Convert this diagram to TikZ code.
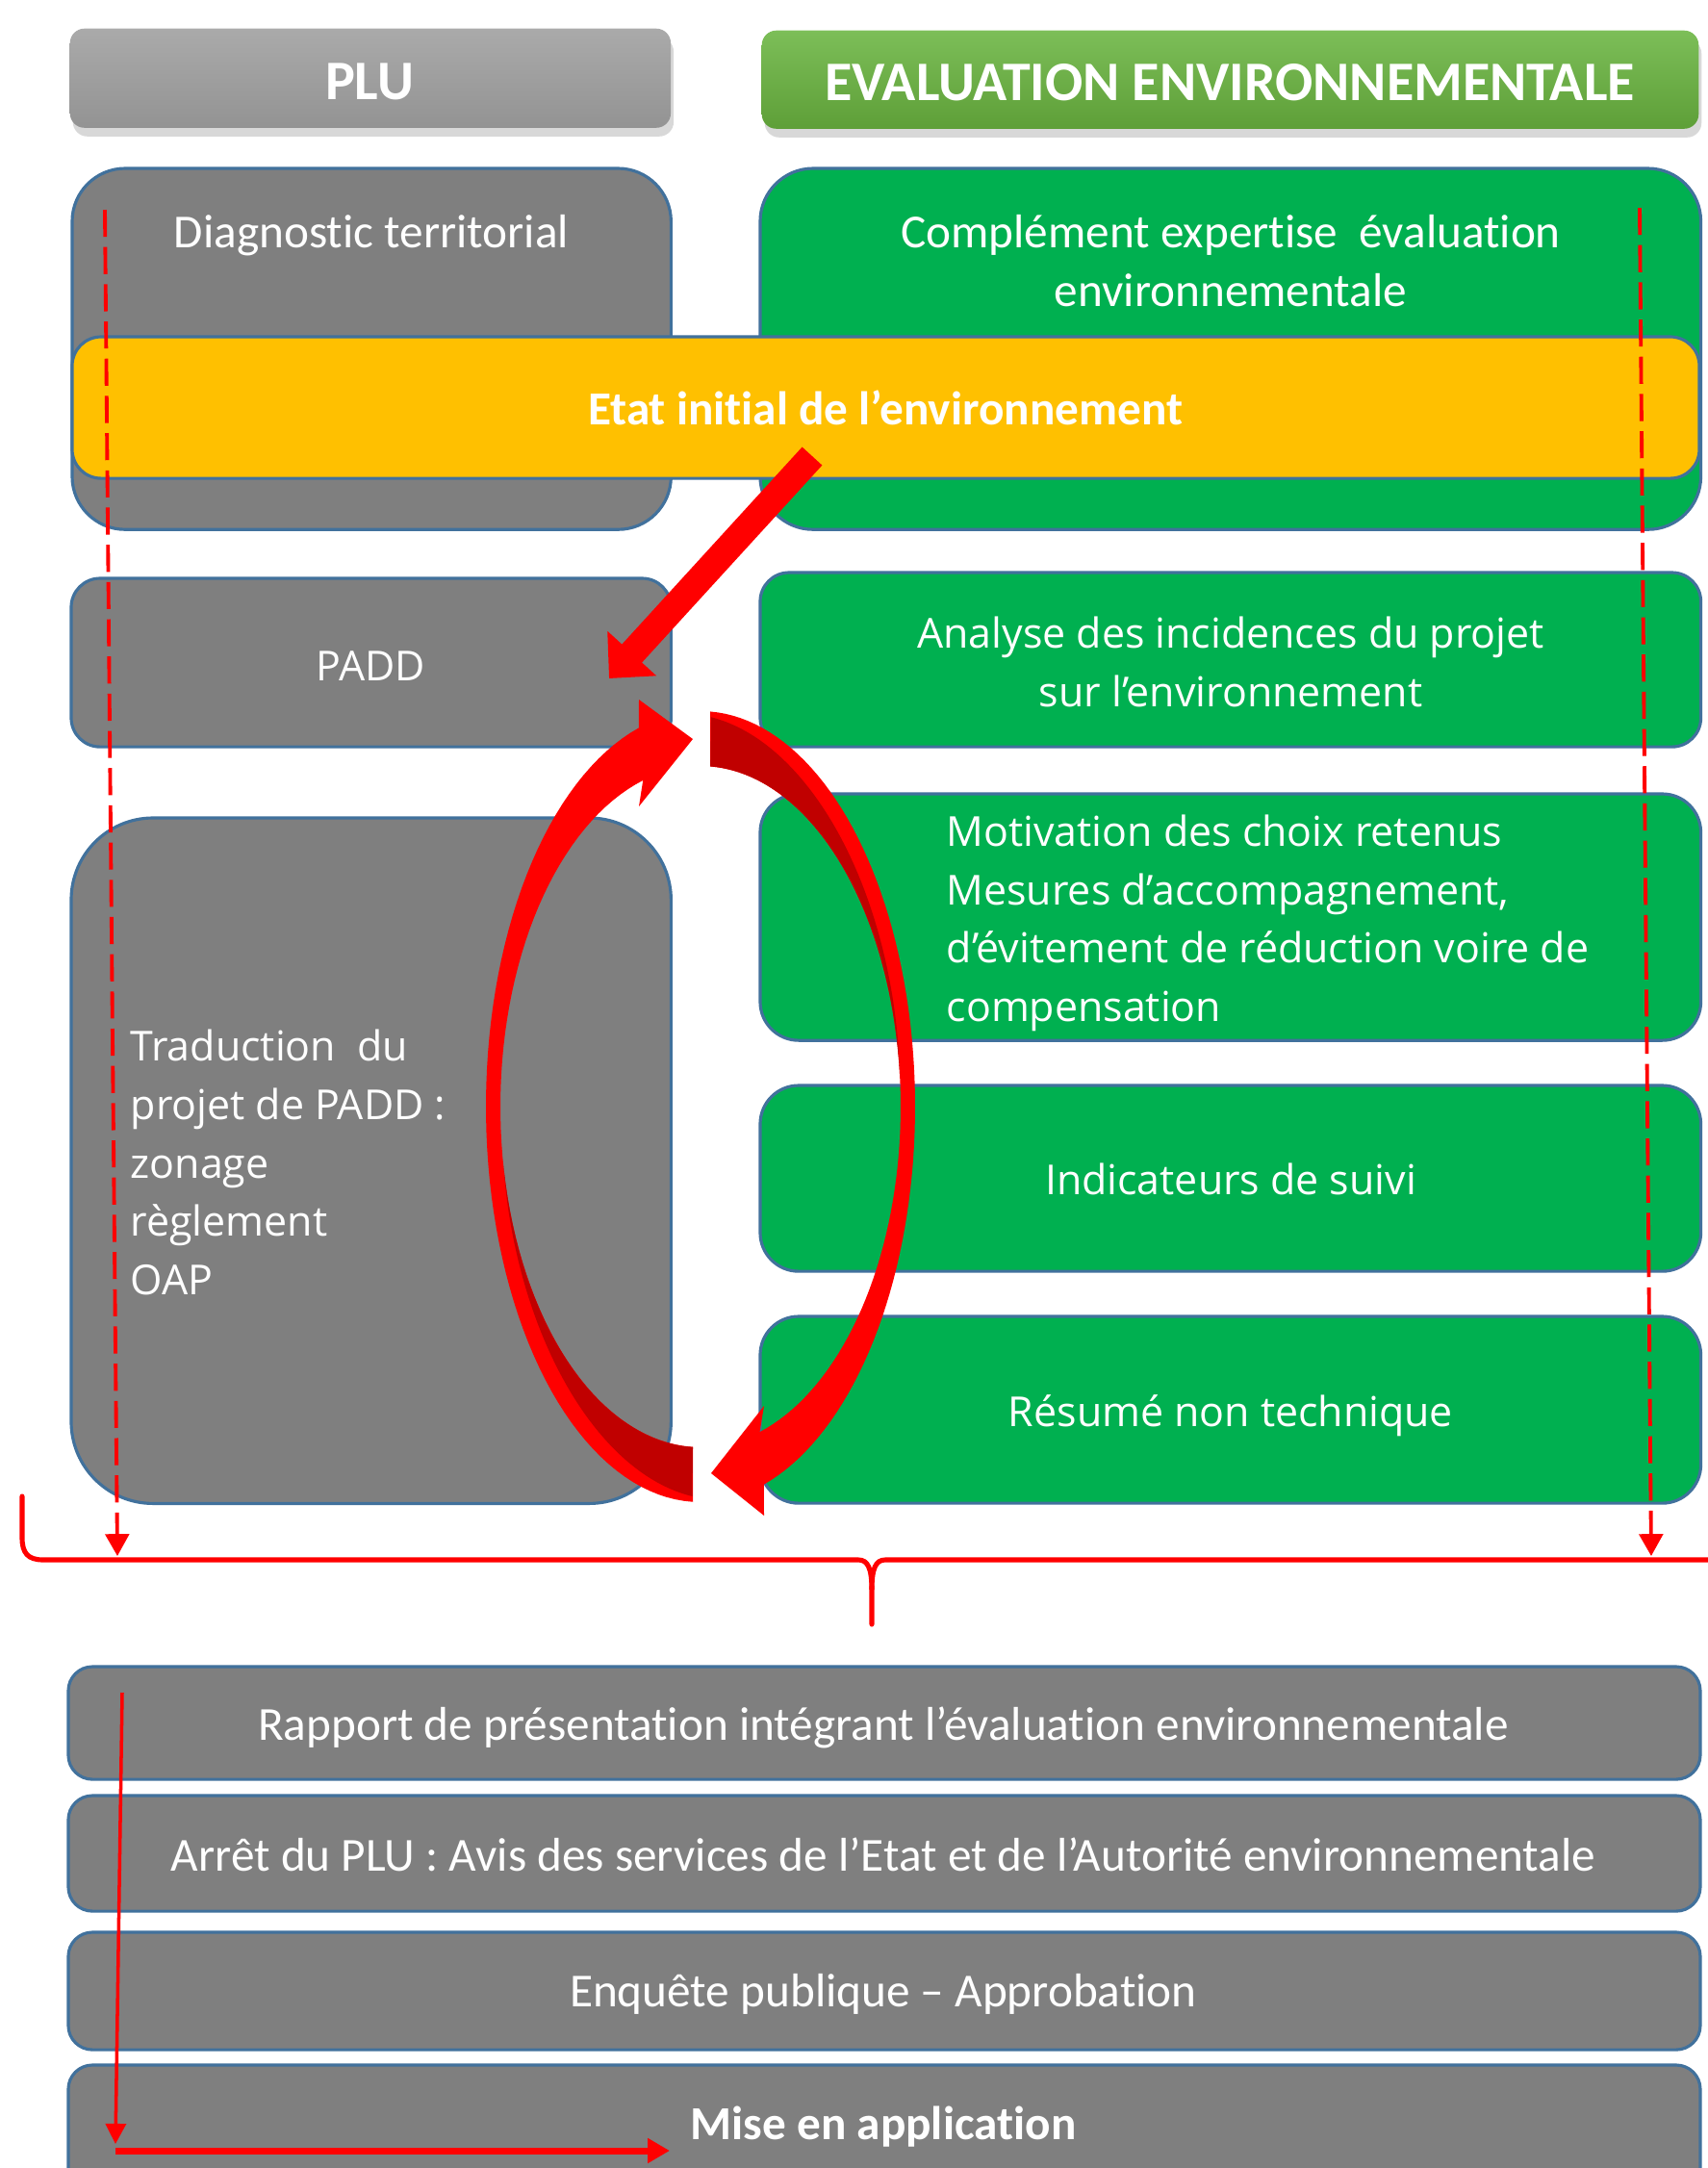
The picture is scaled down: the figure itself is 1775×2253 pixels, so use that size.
\documentclass[tikz,border=0pt]{standalone}
\usepackage{fontspec}
\setmainfont{Carlito}[Ligatures={NoCommon,NoContextual}]
\newfontfamily\osans{Open Sans}
\usetikzlibrary{arrows.meta,shadows}
\definecolor{gbox}{HTML}{7F7F7F}
\definecolor{gr}{HTML}{00B050}
\definecolor{yl}{HTML}{FFC000}
\definecolor{bd}{HTML}{41719C}
\definecolor{rd}{HTML}{FF0000}
\definecolor{drd}{HTML}{C00000}
\definecolor{hga}{HTML}{AAAAAA}
\definecolor{hgb}{HTML}{939393}
\definecolor{hea}{HTML}{7CBE58}
\definecolor{heb}{HTML}{5E9F38}
\tikzset{
  bx/.style={draw=bd, line width=0.9pt, inner sep=0pt, outer sep=0pt, anchor=north west, rectangle},
  gbx/.style={bx, fill=gbox},
  grbx/.style={bx, fill=gr},
  hdr/.style={rectangle, inner sep=0pt, anchor=north west, rounded corners=0.15cm,
    drop shadow={opacity=0.3, shadow xshift=0.3mm, shadow yshift=-0.9mm}},
  wt/.style={text=white, inner sep=0pt, anchor=base},
  cal/.style={wt, font=\fontsize{14}{17}\selectfont},
  calb/.style={wt, font=\bfseries\fontsize{14}{17}\selectfont},
  hdt/.style={wt, font=\bfseries\fontsize{16.5}{19}\selectfont},
  ops/.style={wt, font=\osans\fontsize{12.2}{17}\selectfont},
  dashline/.style={rd, line width=1.1pt, dash pattern=on 8pt off 3pt, -{Triangle[width=7pt,length=6.5pt]}},
}
\begin{document}
\begin{tikzpicture}[x=0.01cm, y=-0.01cm]
\useasboundingbox (0,0) rectangle (1775,2253);
\clip (0,0) rectangle (1775,2253);
\fill[white] (0,0) rectangle (1775,2253);

% headers
\node[hdr, top color=hga, bottom color=hgb, minimum width=6.24cm, minimum height=1.03cm] (hplu) at (72,29) {};
\node[hdr, top color=hea, bottom color=heb, minimum width=9.73cm, minimum height=1.02cm] (heval) at (791,31) {};
\node[hdt] (tplu) at (384,103) {PLU};
\node[hdt] (teval) at (1278,104) {EVALUATION ENVIRONNEMENTALE};

% top boxes
\node[gbx, rounded corners=0.55cm, minimum width=6.22cm, minimum height=3.75cm] (diag) at (75,175) {};
\node[grbx, rounded corners=0.55cm, minimum width=9.77cm, minimum height=3.75cm] (compl) at (790,175) {};
\node[bx, fill=yl, rounded corners=0.3cm, minimum width=16.9cm, minimum height=1.47cm] (etat) at (75,350) {};
\node[cal] (tdiag) at (386,257) {Diagnostic territorial};
\node[cal] (tcompl1) at (1279,257) {Complément expertise\ \ évaluation};
\node[cal] (tcompl2) at (1279,318) {environnementale};
\node[calb] (tetat) at (920,441) {Etat initial de l’environnement};

% middle boxes
\node[gbx, rounded corners=0.3cm, minimum width=6.23cm, minimum height=1.75cm] (padd) at (74,601) {};
\node[grbx, rounded corners=0.3cm, minimum width=9.77cm, minimum height=1.81cm] (analyse) at (790,595) {};
\node[gbx, rounded corners=0.85cm, minimum width=6.23cm, minimum height=7.12cm] (trad) at (74,850) {};
\node[grbx, rounded corners=0.4cm, minimum width=9.77cm, minimum height=2.56cm] (motiv) at (790,825) {};
\node[grbx, rounded corners=0.4cm, minimum width=9.77cm, minimum height=1.93cm] (indic) at (790,1128) {};
\node[grbx, rounded corners=0.4cm, minimum width=9.77cm, minimum height=1.94cm] (resume) at (790,1368) {};

\node[ops] (tpadd) at (385,707) {PADD};
\node[ops] (tana1) at (1279,673) {Analyse des incidences du projet};
\node[ops] (tana2) at (1279,734) {sur l’environnement};
\node[ops, anchor=base west] (tmot1) at (983,879) {Motivation des choix retenus};
\node[ops, anchor=base west] (tmot2) at (983,940) {Mesures d’accompagnement,};
\node[ops, anchor=base west] (tmot3) at (983,1000) {d’évitement de réduction voire de};
\node[ops, anchor=base west] (tmot4) at (983,1061) {compensation};
\node[ops] (tindic) at (1279,1241) {Indicateurs de suivi};
\node[ops] (tres) at (1279,1482) {Résumé non technique};
\node[ops, anchor=base west] (ttr1) at (135,1102) {Traduction\ \ du};
\node[ops, anchor=base west] (ttr2) at (135,1163) {projet de PADD :};
\node[ops, anchor=base west] (ttr3) at (135,1224) {zonage};
\node[ops, anchor=base west] (ttr4) at (135,1284) {règlement};
\node[ops, anchor=base west] (ttr5) at (135,1345) {OAP};

% bottom boxes
\node[gbx, rounded corners=0.25cm, minimum width=16.95cm, minimum height=1.17cm] (rapport) at (71,1732) {};
\node[gbx, rounded corners=0.25cm, minimum width=16.95cm, minimum height=1.2cm] (arret) at (71,1866) {};
\node[gbx, rounded corners=0.25cm, minimum width=16.95cm, minimum height=1.22cm] (enquete) at (71,2008) {};
\node[gbx, rounded corners=0.25cm, minimum width=16.95cm, minimum height=1.4cm] (mise) at (71,2146) {};
\node[cal] (trap) at (918,1808) {Rapport de présentation intégrant l’évaluation environnementale};
\node[cal] (tarr) at (918,1944) {Arrêt du PLU : Avis des services de l’Etat et de l’Autorité environnementale};
\node[cal] (tenq) at (918,2085) {Enquête publique – Approbation};
\node[calb] (tmise) at (918,2223) {Mise en application};

% dashed side arrows
\coordinate (dla) at (109,218);
\coordinate (dlb) at (122,1617);
\coordinate (dra) at (1704,216);
\coordinate (drb) at (1716,1617);
\draw[dashline] (dla) -- (dlb);
\draw[dashline] (dra) -- (drb);

% brace
\coordinate (bra) at (23,1555);
\coordinate (brm) at (906,1688);
\coordinate (brr) at (1790,1621);
\draw[rd, line width=1.45pt, line cap=round] (bra) -- (23,1598) .. controls (23,1614) and (29,1621) .. (45,1621)
  -- (892,1621) .. controls (902,1621) and (906,1630) .. (906,1652) -- (brm);
\draw[rd, line width=1.45pt] (906,1652) .. controls (906,1630) and (910,1621) .. (920,1621) -- (brr);

% straight arrow from Etat to PADD
\coordinate (sa) at (844,474);
\coordinate (sb) at (633,705);
\draw[rd, line width=8pt, -{Triangle[width=19pt,length=10pt]}] (sa) -- (sb);

% curved arrows (left: up, right: down)
\fill[rd] (720,1561) -- plot[domain=92:253.3, samples=70] ({728+223*cos(\x)},{1150+411*sin(\x)})
  -- (664,727) -- (720,768) -- (664,838)
  -- plot[domain=253.3:92.2, samples=70] ({728+208*cos(\x)},{1150+354*sin(\x)}) -- cycle;
\fill[drd] plot[domain=92.2:170, samples=50] ({728+(208+13.5*(170-\x)/77.8)*cos(\x)},{1150+(354+51.3*(170-\x)/77.8)*sin(\x)})
  -- plot[domain=170:92.2, samples=50] ({728+208*cos(\x)},{1150+354*sin(\x)}) -- cycle;
\fill[rd] (738,739) -- plot[domain=-87.4:72.8, samples=80] ({728+223*cos(\x)},{1150+411*sin(\x)})
  -- (794,1575) -- (739,1531) -- (794,1461)
  -- plot[domain=72.8:-87.2, samples=80] ({728+208*cos(\x)},{1150+354*sin(\x)}) -- cycle;
\fill[drd] plot[domain=-87.2:-5, samples=50] ({728+(208+13.5*(-5-(\x))/82.2)*cos(\x)},{1150+(354+51.3*(-5-(\x))/82.2)*sin(\x)})
  -- plot[domain=-5:-87.2, samples=50] ({728+208*cos(\x)},{1150+354*sin(\x)}) -- cycle;

% bottom L arrow
\coordinate (la) at (127,1759);
\coordinate (lb) at (120,2228);
\coordinate (lc) at (120,2235);
\coordinate (ld) at (696,2235);
\draw[rd, line width=1pt, -{Triangle[width=6pt,length=6pt]}] (la) -- (lb);
\draw[rd, line width=2pt, -{Triangle[width=7pt,length=6.5pt]}] (lc) -- (ld);
\end{tikzpicture}
\end{document}
